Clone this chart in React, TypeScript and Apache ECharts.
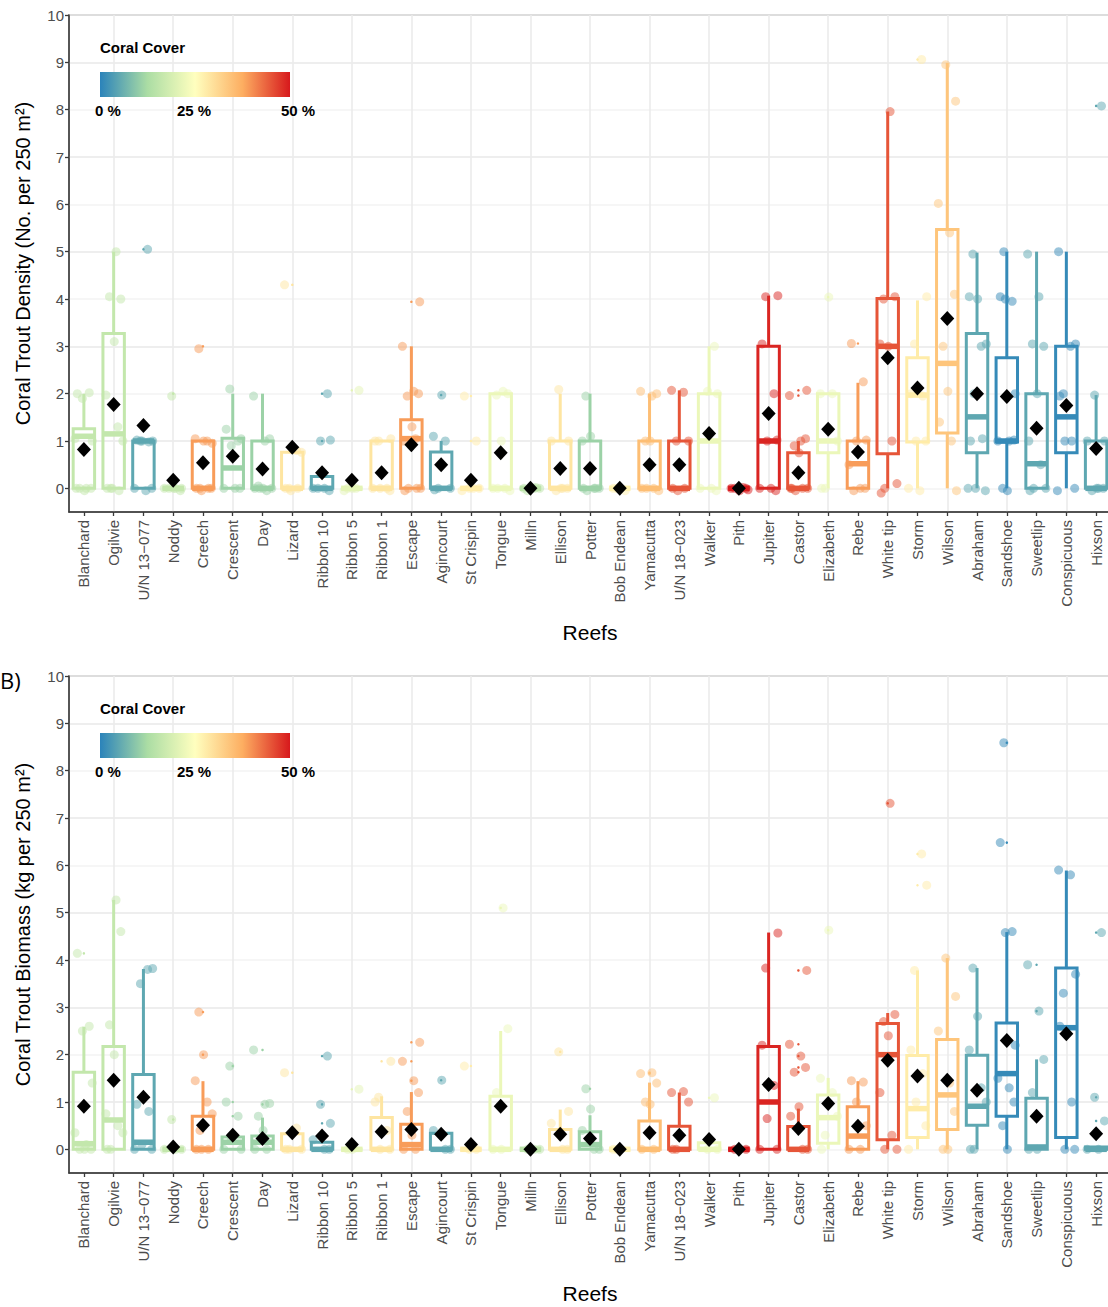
import React, { useEffect, useRef } from 'react';
import * as echarts from 'echarts';

// ---------------- DATA ----------------
const reefs = [
  'Blanchard', 'Ogilvie', 'U/N 13−077', 'Noddy', 'Creech', 'Crescent', 'Day', 'Lizard',
  'Ribbon 10', 'Ribbon 5', 'Ribbon 1', 'Escape', 'Agincourt', 'St Crispin', 'Tongue', 'Milln',
  'Ellison', 'Potter', 'Bob Endean', 'Yamacutta', 'U/N 18−023', 'Walker', 'Pith', 'Jupiter',
  'Castor', 'Elizabeth', 'Rebe', 'White tip', 'Storm', 'Wilson', 'Abraham', 'Sandshoe',
  'Sweetlip', 'Conspicuous', 'Hixson',
];

// coral cover (%) per reef
const coralCover = [
  16, 16, 5, 16, 39, 11, 11, 29, 5, 21, 29, 39, 5, 28, 22, 15, 29, 11, 27, 35,
  45, 22, 50, 49, 45, 22, 39, 45, 28, 34, 5, 1, 5, 1, 5,
];

// [lower whisker, Q1, median, Q3, upper whisker]
const densityStats = [
  [0, 0, 1.1, 1.26, 2.0], [0, 0, 1.15, 3.27, 5.0], [0, 0, 1.0, 1.0, 1.0], [0, 0, 0, 0, 0],
  [0, 0, 0, 1.0, 1.0], [0, 0, 0.43, 1.06, 2.0], [0, 0, 0, 1.0, 2.0], [0, 0, 0, 0.76, 0.76],
  [0, 0, 0, 0.25, 0.25], [0, 0, 0, 0, 0], [0, 0, 0, 1.0, 1.0], [0, 0, 1.05, 1.45, 3.0],
  [0, 0, 0, 0.77, 1.0], [0, 0, 0, 0, 0], [0, 0, 0, 2.0, 2.0], [0, 0, 0, 0, 0],
  [0, 0, 0, 1.0, 2.0], [0, 0, 0, 1.0, 2.0], [0, 0, 0, 0, 0], [0, 0, 0, 1.0, 2.0],
  [0, 0, 0, 1.0, 2.07], [0, 0, 1.0, 2.0, 3.0], [0, 0, 0, 0, 0], [0, 0, 1.0, 3.0, 4.07],
  [0, 0, 0, 0.75, 1.0], [0, 0.75, 1.0, 2.0, 2.0], [0, 0, 0.52, 1.0, 2.23], [0, 0.73, 3.0, 4.01, 7.96],
  [0, 0.98, 1.97, 2.76, 3.97], [0, 1.17, 2.64, 5.47, 8.99], [0, 0.75, 1.51, 3.27, 4.98], [0, 0.98, 1.0, 2.76, 5.0],
  [0, 0, 0.52, 2.0, 5.0], [0, 0.75, 1.51, 3.0, 5.0], [0, 0, 0, 1.0, 1.97],
];
const densityMeans = [
  0.82, 1.77, 1.33, 0.17, 0.54, 0.68, 0.41, 0.87, 0.33, 0.17, 0.33, 0.92, 0.5, 0.17, 0.75, 0,
  0.42, 0.42, 0, 0.5, 0.5, 1.16, 0, 1.58, 0.33, 1.25, 0.77, 2.76, 2.12, 3.59, 2.0, 1.94,
  1.27, 1.75, 0.84,
];
const densityPoints = [
  [2.0, 2.02, 1.9, 1.0, 1.05, 0, 0, 0, -0.05, 0],
  [5.0, 4.0, 4.05, 3.1, 1.97, 1.3, 1.0, 0, 0, -0.05, 0],
  [5.05, 1.0, 1.0, 1.02, 0.98, 1.0, 0, 0, -0.05],
  [1.95, 0, 0, 0, -0.05, 0, 0],
  [2.95, 1.0, 1.05, 1.0, 0.95, 0, 0, 0, -0.05, 0],
  [2.1, 1.25, 1.0, 0.9, 1.05, 0, 0, 0],
  [1.95, 1.0, 1.05, 0.05, 0, 0, -0.05, 0, 0],
  [4.3, 0.8, 0.76, 0, 0, 0, -0.05],
  [2.0, 1.0, 1.02, 0, 0, -0.05, 0],
  [2.07, 0, 0, -0.05, 0],
  [1.05, 1.0, 1.0, 0, 0, -0.05, 0],
  [3.94, 3.0, 2.05, 2.0, 1.95, 1.3, 1.0, 1.05, 0, 0, -0.05, 0],
  [1.97, 1.1, 1.0, 0, 0, -0.03],
  [1.95, 1.0, 0, 0, -0.05, 0],
  [2.05, 2.0, 1.97, 1.0, 0, 0, -0.05, 0],
  [0, 0, -0.05, 0, 0.02],
  [2.09, 1.0, 1.0, 0, 0, -0.05, 0],
  [1.95, 1.1, 1.0, 0, 0, -0.05, 0, 0],
  [0, 0, -0.05, 0],
  [2.05, 1.95, 2.0, 1.0, 1.0, 0, 0, -0.05, 0],
  [2.07, 2.03, 1.0, 1.0, 0, 0, -0.05],
  [3.0, 2.05, 2.0, 0, 0, -0.05],
  [0, 0, -0.05, 0, 0.02, -0.03],
  [4.07, 4.05, 3.05, 2.0, 1.0, 1.02, 0, 0, -0.05],
  [2.07, 1.96, 1.0, 1.05, 0.9, 0.75, 0, 0, 0, -0.05, 0],
  [4.04, 2.0, 2.0, 1.0, 0, 0],
  [3.06, 2.25, 1.0, 1.02, 0.5, 0, 0, -0.05],
  [7.96, 4.05, 4.0, 3.0, 3.05, 1.0, 0.1, 0, -0.1],
  [9.06, 4.05, 3.05, 2.0, 1.95, 1.0, 1.0, 0, -0.05],
  [8.95, 8.18, 6.02, 5.4, 4.1, 3.0, 2.05, 1.4, 1.0, -0.05],
  [4.95, 4.0, 4.05, 3.0, 3.05, 2.0, 1.0, 1.05, 0, -0.05, 0],
  [5.0, 4.05, 3.95, 4.0, 2.0, 1.0, 1.0, 1.02, 0, -0.05],
  [4.95, 4.05, 3.0, 3.05, 2.0, 1.0, 0.5, 0, 0, -0.05],
  [5.0, 3.0, 3.05, 2.0, 1.95, 1.0, 1.0, 0, -0.05],
  [8.08, 1.97, 1.0, 1.0, 0, 0, -0.05, 0],
];
const densityOutliers = [
  [], [], [5.05], [2.0], [3.0], [], [], [4.3], [2.0, 1.0], [2.07], [], [3.94], [1.97], [1.95, 1.0],
  [], [], [], [], [], [], [], [], [], [], [2.07, 1.96], [4.04], [3.06], [], [9.06], [], [], [],
  [], [], [8.08],
];

const biomassStats = [
  [0, 0, 0.12, 1.63, 2.59], [0, 0, 0.62, 2.17, 5.27], [0, 0, 0.15, 1.58, 3.81], [0, 0, 0, 0, 0],
  [0, 0, 0, 0.7, 1.44], [0, 0, 0.15, 0.26, 0.26], [0, 0, 0.15, 0.28, 0.67], [0, 0, 0, 0.33, 0.45],
  [0, 0, 0, 0.15, 0.15], [0, 0, 0, 0, 0], [0, 0, 0, 0.67, 1.12], [0, 0, 0.1, 0.53, 1.21],
  [0, 0, 0, 0.34, 0.4], [0, 0, 0, 0, 0], [0, 0, 0, 1.12, 2.5], [0, 0, 0, 0, 0],
  [0, 0, 0, 0.42, 0.84], [0, 0, 0.1, 0.37, 0.72], [0, 0, 0, 0, 0], [0, 0, 0, 0.6, 1.41],
  [0, 0, 0, 0.49, 1.2], [0, 0, 0, 0.14, 0.14], [0, 0, 0, 0, 0], [0, 0, 1.0, 2.17, 4.58],
  [0, 0, 0, 0.48, 0.86], [0, 0.13, 0.67, 1.15, 1.51], [0, 0, 0.28, 0.9, 1.44], [0, 0.2, 2.0, 2.66, 2.88],
  [0, 0.25, 0.86, 1.98, 3.78], [0, 0.42, 1.15, 2.32, 4.04], [0, 0.51, 0.91, 1.99, 3.83], [0, 0.7, 1.6, 2.67, 4.59],
  [0, 0, 0.05, 1.08, 1.9], [0, 0.25, 2.57, 3.83, 5.89], [0, 0, 0, 0.05, 0.05],
];
const biomassMeans = [
  0.91, 1.46, 1.1, 0.05, 0.51, 0.3, 0.23, 0.35, 0.28, 0.1, 0.37, 0.42, 0.32, 0.1, 0.91, 0,
  0.32, 0.23, 0, 0.35, 0.3, 0.21, 0, 1.37, 0.44, 0.97, 0.49, 1.88, 1.55, 1.46, 1.25, 2.3,
  0.7, 2.44, 0.33,
];
const biomassPoints = [
  [4.14, 2.6, 2.5, 1.4, 0.35, 0.1, 0, 0, 0],
  [5.27, 4.6, 2.63, 2.0, 0.75, 0.5, 0.35, 0, 0],
  [3.8, 3.82, 3.5, 0.95, 0.8, 0.1, 0, 0],
  [0.63, 0, 0, 0],
  [2.9, 2.0, 1.45, 1.0, 0.75, 0.4, 0, 0, 0],
  [1.76, 1.0, 0.7, 0.2, 0, 0],
  [2.1, 0.95, 0.97, 0.7, 0.4, 0, 0],
  [1.62, 0.45, 0, 0, 0],
  [1.97, 0.95, 0.55, 0.2, 0, 0],
  [1.27, 0, 0],
  [1.86, 1.1, 1.0, 0.4, 0, 0],
  [2.26, 1.86, 1.45, 1.2, 0.8, 0.3, 0, 0],
  [1.46, 0.4, 0, 0],
  [1.76, 0, 0],
  [5.1, 2.55, 1.2, 0, 0],
  [0, 0, 0],
  [2.06, 0.8, 0.55, 0, 0],
  [1.28, 0.85, 0.4, 0, 0],
  [0, 0],
  [1.6, 1.62, 1.4, 1.0, 0.95, 0, 0],
  [1.2, 1.22, 1.0, 0, 0],
  [1.09, 0, 0],
  [0, 0, 0],
  [4.57, 3.83, 2.2, 1.35, 0.65, 0, 0],
  [3.78, 2.22, 1.97, 1.73, 1.63, 0.9, 0.7, 0, 0],
  [4.63, 1.5, 1.2, 0.7, 0.3, 0],
  [1.45, 1.42, 1.0, 0.5, 0, 0],
  [7.31, 2.85, 2.7, 2.4, 1.2, 0.3, 0, 0],
  [6.24, 5.58, 3.78, 2.1, 1.6, 1.0, 0.5, 0],
  [4.04, 3.23, 2.5, 1.4, 0.8, 0, 0],
  [3.83, 2.81, 2.1, 1.3, 1.0, 0, 0],
  [8.59, 6.48, 4.6, 4.58, 2.2, 1.5, 1.3, 1.0, 0.5, 0],
  [3.9, 2.92, 1.9, 1.2, 0, 0],
  [5.9, 5.8, 3.7, 3.3, 2.6, 1.0, 0, 0],
  [4.58, 1.1, 0.6, 0, 0],
];
const biomassOutliers = [
  [4.14], [], [], [0.63], [2.9, 2.0], [1.76, 1.0, 0.7], [2.1, 0.95], [1.62], [1.97, 0.95, 0.55],
  [1.27], [1.86], [2.26, 1.86, 1.45], [1.46], [1.76], [5.1], [], [2.06], [1.28], [], [1.6, 1.62],
  [], [1.09], [], [], [3.78, 2.22, 1.97, 1.73, 1.63], [4.63], [], [7.31], [6.24, 5.58], [], [],
  [8.59, 6.48], [3.9, 2.92], [], [4.58, 1.1, 0.6],
];

const yTicks = [0, 1, 2, 3, 4, 5, 6, 7, 8, 9, 10];
const legendStops = [0, 12.5, 25, 37.5, 50];
const legendColors = ['#2b83ba', '#abdda4', '#ffffbf', '#fdae61', '#d7191c'];
const legendLabels = ['0 %', '25 %', '50 %'];

// ---------------- HELPERS ----------------
const FONT = "Liberation Sans, Arial, Helvetica, sans-serif";

function hexToRgb(h: string) {
  const n = parseInt(h.slice(1), 16);
  return [(n >> 16) & 255, (n >> 8) & 255, n & 255];
}
function coverColor(c: number) {
  for (let k = 0; k < legendStops.length - 1; k++) {
    if (c <= legendStops[k + 1] || k === legendStops.length - 2) {
      const t = Math.max(0, Math.min(1, (c - legendStops[k]) / (legendStops[k + 1] - legendStops[k])));
      const a = hexToRgb(legendColors[k]);
      const b = hexToRgb(legendColors[k + 1]);
      const r = a.map((v, i) => Math.round(v + (b[i] - v) * t));
      return `rgb(${r[0]},${r[1]},${r[2]})`;
    }
  }
  return legendColors[0];
}
const reefColors = coralCover.map(coverColor);
const jitter = [-0.22, 0.18, -0.05, 0.28, -0.3, 0.08, 0.24, -0.14, 0.02, -0.26, 0.14, 0.31, -0.1];

const GRID_LEFT = 69;
const GRID_WIDTH = 1042;
const GRID_HEIGHT = 497;

function buildPanel(idx: number, stats: number[][], means: number[], points: number[][], outliers: number[][]) {
  const ptData: any[] = [];
  points.forEach((arr, i) => {
    arr.forEach((v, k) => {
      ptData.push({
        value: [i + jitter[(k + i * 5) % jitter.length], v],
        itemStyle: { color: reefColors[i], opacity: 0.5 },
      });
    });
  });
  const outData: any[] = [];
  outliers.forEach((arr, i) => arr.forEach((v) => outData.push({ value: [i, v], itemStyle: { color: reefColors[i], opacity: 1 } })));
  return [
    {
      type: 'scatter', xAxisIndex: idx, yAxisIndex: idx, data: ptData, symbolSize: 9, z: 2, silent: true,
    },
    {
      type: 'scatter', xAxisIndex: idx, yAxisIndex: idx, data: outData, symbolSize: 2.5, z: 3, silent: true,
    },
    {
      type: 'custom', xAxisIndex: idx, yAxisIndex: idx, z: 4, silent: true,
      data: stats.map((s, i) => [i, ...s]),
      encode: { x: 0, y: [1, 2, 3, 4, 5] },
      renderItem: (params: any, api: any) => {
        const i = api.value(0);
        const color = reefColors[params.dataIndex];
        const half = api.size([0.72, 0])[0] / 2;
        const c = (v: number) => api.coord([i, v]);
        const [cx, ylo] = c(api.value(1));
        const yq1 = c(api.value(2))[1];
        const ymed = c(api.value(3))[1];
        const yq3 = c(api.value(4))[1];
        const yhi = c(api.value(5))[1];
        const st = { stroke: color, lineWidth: 3, fill: 'none' };
        return {
          type: 'group',
          children: [
            { type: 'line', shape: { x1: cx, y1: yq3, x2: cx, y2: yhi }, style: st },
            { type: 'line', shape: { x1: cx, y1: ylo, x2: cx, y2: yq1 }, style: st },
            { type: 'rect', shape: { x: cx - half, y: yq3, width: half * 2, height: yq1 - yq3 }, style: st },
            { type: 'line', shape: { x1: cx - half, y1: ymed, x2: cx + half, y2: ymed }, style: { stroke: color, lineWidth: 5.5 } },
          ],
        };
      },
    },
    {
      type: 'scatter', xAxisIndex: idx, yAxisIndex: idx, z: 5, silent: true,
      data: means.map((m, i) => [i, m]),
      symbol: 'diamond', symbolSize: [14, 15],
      itemStyle: { color: '#000000', opacity: 1 },
    },
  ];
}

function legendGraphic(top: number) {
  const txt = (text: string, extra: any) => ({
    text, fontSize: 15, fontWeight: 'bold', fontFamily: FONT, fill: '#000', ...extra,
  });
  return [
    {
      type: 'text', x: 100, y: top + 32, z: 100,
      style: txt('Coral Cover', { verticalAlign: 'middle' }),
    },
    {
      type: 'rect', z: 100, shape: { x: 100, y: top + 57, width: 190, height: 25 },
      style: {
        fill: new echarts.graphic.LinearGradient(0, 0, 1, 0,
          legendColors.map((col, k) => ({ offset: legendStops[k] / 50, color: col }))),
      },
    },
    ...legendLabels.map((t, k) => ({
      type: 'text', x: [108, 194, 298][k], y: top + 95, z: 100,
      style: txt(t, { align: 'center', verticalAlign: 'middle' }),
    })),
  ];
}

const panels = [
  { top: 15, title: 'Coral Trout Density (No. per 250 m²)', stats: densityStats, means: densityMeans, points: densityPoints, outliers: densityOutliers },
  { top: 676, title: 'Coral Trout Biomass (kg per 250 m²)', stats: biomassStats, means: biomassMeans, points: biomassPoints, outliers: biomassOutliers },
];

export default function App() {
  const ref = useRef<HTMLDivElement>(null);
  useEffect(() => {
    if (!ref.current) return;
    const chart = echarts.init(ref.current, undefined, { renderer: 'svg' });
    const reefIdx = reefs.map((_, i) => i);
    const option: any = {
      animation: false,
      backgroundColor: '#ffffff',
      textStyle: { fontFamily: FONT },
      grid: panels.map((p) => ({
        left: GRID_LEFT, top: p.top, width: GRID_WIDTH, height: GRID_HEIGHT,
        show: true, borderColor: '#7d7d7d', borderWidth: 1.3, backgroundColor: 'transparent',
        containLabel: false, outerBoundsMode: 'none',
      })),
      xAxis: panels.map((p, idx) => ({
        type: 'value', gridIndex: idx, min: -0.5, max: 34.5, interval: 0.5,
        name: 'Reefs', nameLocation: 'middle', nameGap: 110,
        nameTextStyle: { fontSize: 21, color: '#000', fontFamily: FONT },
        axisLine: { show: true, onZero: false, lineStyle: { color: '#3a3a3a', width: 1.5 } },
        axisTick: { show: true, length: 4, customValues: reefIdx, lineStyle: { color: '#3a3a3a', width: 1.3 } },
        axisLabel: {
          customValues: reefIdx, rotate: 90, fontSize: 15, color: '#4d4d4d', margin: 8, fontFamily: FONT,
          formatter: (v: number) => (Number.isInteger(v) && reefs[v] ? reefs[v] : ''),
        },
        splitLine: { show: true, lineStyle: { color: ['rgba(0,0,0,0)', '#ebebeb'], width: 1.6 } },
      })),
      yAxis: panels.map((p, idx) => ({
        type: 'value', gridIndex: idx, min: -0.5, max: 10, interval: 0.5,
        name: p.title, nameLocation: 'middle', nameGap: 36,
        nameTextStyle: { fontSize: 20, color: '#000', fontFamily: FONT },
        axisLine: { show: true, onZero: false, lineStyle: { color: '#3a3a3a', width: 1.5 } },
        axisTick: { show: true, length: 4, customValues: yTicks, lineStyle: { color: '#3a3a3a', width: 1.3 } },
        axisLabel: {
          customValues: yTicks, fontSize: 15, color: '#4d4d4d', margin: 5, fontFamily: FONT,
          formatter: (v: number) => (Number.isInteger(v) && v >= 0 ? String(v) : ''),
        },
        splitLine: { show: true, lineStyle: { color: ['#f3f3f3', '#e8e8e8'], width: 1.6 } },
      })),
      series: panels.flatMap((p, idx) => buildPanel(idx, p.stats, p.means, p.points, p.outliers)),
      graphic: [
        ...legendGraphic(panels[0].top),
        ...legendGraphic(panels[1].top),
        {
          type: 'text', x: 0, y: 680, z: 100,
          style: { text: 'B)', fontSize: 22, fontFamily: 'Open Sans, ' + FONT, fill: '#000', verticalAlign: 'middle' },
        },
      ],
    };
    chart.setOption(option);
    return () => chart.dispose();
  }, []);
  return (
    <div style={{ position: 'absolute', left: 0, top: 0, width: 1108, height: 1307, overflow: 'hidden' }}>
      <div ref={ref} style={{ width: 1112, height: 1307 }} />
    </div>
  );
}
